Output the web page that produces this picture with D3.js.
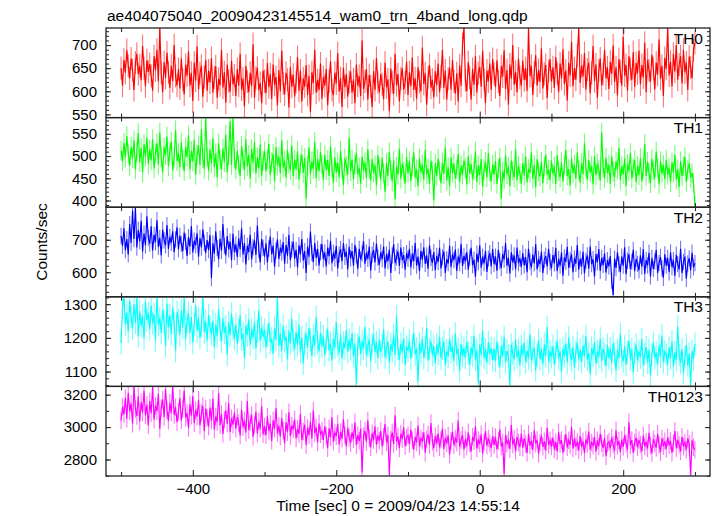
<!DOCTYPE html>
<html><head><meta charset="utf-8">
<script src="https://cdn.jsdelivr.net/npm/d3@7"></script>
<style>
body{margin:0;background:#fff;}
svg text{font-family:"Liberation Sans",Arial,Helvetica,sans-serif;fill:#000;}
</style>
</head><body>
<svg id="chart" width="717" height="516"></svg>
<script>
// ---- data (count rates, counts/sec) ----
const titleText = "ae404075040_20090423145514_wam0_trn_4band_long.qdp";
const xLabelText = "Time [sec] 0 = 2009/04/23 14:55:14";
const yLabelText = "Counts/sec";
const bandNames = ["TH0","TH1","TH2","TH3","TH0123"];
const bandColors = ["#ff0000","#00ff00","#0000ff","#00ffff","#ff00ff"];
const timeStart = -500, timeStep = 2;   // bin centres (sec)
const xDomain = [-521, 321];
const xMajorTicks = [-400,-200,0,200];
const xMinorTicks = [-500,-300,-100,100,300];
const yDomains = [[543,737],[385,586.5],[524.5,800],[1056,1322],[2698,3251]];
const yMajorTicks = [[550,600,650,700],[400,450,500,550],[600,700],[1100,1200,1300],[2800,3000,3200]];
const yMinorStep = [10,10,20,20,100];
const errHalf = [25,22,25,34,54];

const th0 = [
650,612,668,640,689,655,628,671,646,603,662,681,637,655,624,698,650,611,667,642,
659,633,601,676,645,690,622,737,640,598,663,629,684,641,607,655,622,700,633,612,
648,606,671,625,593,657,634,686,612,640,579,662,623,697,604,639,655,588,631,668,
601,645,619,672,597,630,654,586,627,613,690,608,641,575,658,622,599,666,615,634,
590,648,612,681,604,627,567,655,621,598,640,611,702,586,629,651,603,618,574,645,
622,596,661,609,637,583,658,614,631,569,646,600,688,617,593,640,625,565,652,610,
636,589,620,674,601,645,578,628,610,657,592,633,555,641,618,690,597,624,603,660,
584,631,612,648,570,622,665,603,592,640,617,683,599,628,566,651,609,637,588,620,
643,597,626,574,658,612,633,590,710,605,621,648,582,635,611,566,644,603,672,619,
598,637,615,583,662,609,626,557,649,620,594,681,613,637,578,628,650,604,619,664,
592,641,611,673,603,628,584,652,620,600,695,616,639,571,630,657,608,625,587,644,
613,660,598,632,690,607,645,582,627,651,604,668,621,595,639,578,656,612,702,737,
624,600,663,630,582,648,614,676,597,639,653,610,688,626,574,645,621,660,603,670,
638,609,667,621,590,654,632,689,605,646,571,658,627,700,614,642,598,671,630,612,
666,624,650,601,737,633,655,592,641,678,612,646,620,693,606,638,657,585,644,669,
621,652,607,674,639,598,660,627,691,616,645,580,662,634,707,611,650,625,677,737,
618,655,632,683,604,647,662,596,640,698,622,658,586,645,671,613,637,690,628,652,
605,664,638,699,620,652,591,670,643,612,718,634,657,601,676,648,625,685,610,661,
639,688,615,657,630,705,598,668,645,621,679,650,604,662,636,712,627,655,590,672,
649,737,634,664,611,681,643,700,625,658,676,617,690,641,662,603,675,652,628,689,
705];

const th1 = [
512,488,530,497,545,506,478,521,494,535,470,509,552,486,518,463,527,499,541,482,
515,490,538,472,506,528,481,553,497,463,520,502,544,477,511,532,468,496,558,489,
507,475,531,492,466,520,498,547,470,512,488,536,458,503,524,480,561,495,471,586,
498,467,515,483,540,475,506,452,529,491,470,517,486,548,463,501,578,480,586,494,
470,512,481,455,523,492,468,538,477,503,449,516,485,531,461,497,472,526,456,490,
511,466,493,527,458,486,505,444,520,479,499,462,535,474,490,452,514,483,468,524,
455,492,470,511,447,483,503,462,496,404,478,520,459,488,471,532,450,494,466,509,
480,447,503,468,491,455,522,474,440,497,463,486,452,512,471,435,495,478,458,541,
466,492,448,481,507,459,474,438,499,468,486,451,515,470,445,493,462,480,434,502,
474,447,496,461,420,485,455,509,468,443,491,403,476,458,517,449,483,466,438,498,
461,489,444,476,508,452,470,433,495,463,481,447,514,458,472,437,490,466,400,483,
455,494,467,439,486,460,519,445,475,432,497,462,483,449,470,505,441,478,458,490,
473,436,500,461,482,448,468,511,442,479,457,494,431,470,487,452,507,464,443,481,
458,489,437,472,496,404,466,448,502,459,476,433,490,467,452,515,445,478,461,438,
484,456,499,441,471,462,508,449,480,430,493,465,454,487,439,476,503,458,470,446,
490,460,477,437,502,466,452,486,443,479,514,455,471,434,495,462,481,449,508,468,
440,485,459,529,472,447,491,463,478,436,500,457,483,469,445,553,474,451,496,462,
481,438,499,465,452,488,470,519,446,477,459,495,433,482,466,507,450,473,491,441,
478,457,496,443,471,527,455,487,462,439,494,468,450,510,473,436,489,461,480,448,
492,458,474,441,486,463,503,447,470,430,488,455,477,498,442,469,484,451,462,440,
388];

const th2 = [
712,681,735,668,702,655,748,690,790,702,800,676,730,695,758,664,719,683,772,705,
688,741,667,715,693,760,678,706,652,731,698,683,745,672,709,690,726,662,701,738,
671,712,687,665,722,694,650,708,679,742,661,697,683,720,648,705,676,732,690,659,
699,668,714,582,689,657,726,675,640,703,666,748,681,652,711,670,694,637,718,662,
686,647,704,671,735,655,690,624,681,662,715,640,677,698,653,744,669,630,702,675,
648,689,630,673,710,655,682,617,667,701,641,676,660,693,626,684,651,715,637,670,
694,642,669,615,683,655,702,636,665,598,680,648,725,659,631,690,644,672,621,662,
687,640,661,618,676,649,697,628,660,642,681,612,655,671,634,690,647,663,609,678,
643,665,620,684,652,611,672,639,657,696,626,660,641,679,605,654,668,630,688,645,
623,661,640,680,612,655,634,670,598,651,686,628,646,664,619,676,637,653,608,659,
641,672,615,657,634,690,620,648,603,666,639,677,626,652,611,683,644,629,662,606,
650,631,675,612,646,664,598,640,627,681,616,655,637,670,604,648,628,687,619,650,
633,662,608,645,675,622,639,586,657,631,683,614,648,627,666,601,642,659,618,671,
625,648,605,669,634,613,656,639,690,620,644,596,661,630,652,609,676,628,643,616,
659,621,647,600,672,633,615,654,627,687,609,641,625,663,598,638,650,618,672,631,
612,653,627,675,603,640,620,661,589,646,632,678,614,637,655,600,643,626,684,608,
641,618,663,596,635,652,611,679,625,640,587,656,630,671,604,644,622,658,599,637,
618,650,574,530,642,613,661,625,600,648,620,677,594,636,655,610,632,669,603,641,
626,606,652,617,671,595,638,621,660,587,644,610,633,668,598,629,647,612,583,655,
620,644,600,661,616,637,589,654,625,609,672,598,632,648,580,627,643,606,660,615,
628];

const th3 = [
1185,1290,1322,1240,1275,1218,1310,1262,1228,1300,1245,1322,1205,1280,1236,1265,1198,1308,1252,1274,
1226,1296,1243,1271,1192,1322,1238,1259,1215,1284,1249,1177,1302,1230,1268,1211,1290,1244,1162,1276,
1252,1209,1281,1230,1318,1196,1247,1273,1214,1262,1186,1240,1296,1221,1258,1200,1236,1322,1217,1249,
1192,1268,1230,1212,1251,1172,1240,1205,1286,1224,1189,1258,1215,1234,1150,1247,1208,1272,1226,1198,
1240,1183,1222,1266,1195,1213,1140,1237,1208,1255,1180,1226,1200,1248,1168,1219,1282,1190,1231,1204,
1224,1172,1208,1245,1185,1198,1152,1230,1194,1322,1176,1212,1161,1236,1190,1204,1137,1221,1183,1257,
1193,1166,1218,1178,1240,1157,1201,1124,1185,1213,1170,1229,1194,1146,1208,1178,1262,1188,1160,1216,
1175,1205,1148,1190,1227,1163,1184,1132,1198,1171,1246,1180,1155,1209,1138,1186,1170,1223,1159,1194,
1166,1214,1145,1183,1062,1178,1203,1152,1190,1168,1232,1147,1175,1196,1130,1181,1210,1159,1186,1140,
1195,1158,1176,1225,1142,1170,1189,1127,1181,1160,1208,1149,1264,1168,1135,1183,1157,1199,1120,1174,
1162,1190,1138,1175,1216,1150,1169,1070,1183,1155,1198,1141,1172,1229,1133,1166,1190,1148,1175,1125,
1180,1152,1203,1139,1168,1190,1119,1162,1145,1197,1158,1175,1131,1213,1150,1168,1102,1182,1146,1170,
1141,1189,1155,1120,1172,1148,1206,1136,1163,1065,1180,1150,1222,1140,1166,1126,1187,1153,1170,1133,
1168,1131,1190,1150,1112,1174,1145,1203,1128,1161,1147,1060,1180,1154,1136,1195,1142,1165,1118,1177,
1149,1186,1127,1162,1140,1210,1133,1158,1171,1104,1150,1193,1137,1166,1122,1181,1146,1232,1129,1160,
1143,1176,1121,1155,1192,1138,1162,1099,1168,1145,1183,1127,1201,1150,1134,1172,1110,1159,1186,1137,
1164,1128,1177,1146,1206,1135,1155,1092,1170,1148,1188,1123,1160,1143,1198,1131,1167,1151,1116,1179,
1140,1169,1125,1184,1152,1103,1163,1139,1212,1147,1130,1175,1120,1158,1191,1136,1166,1098,1154,1180,
1133,1161,1142,1196,1118,1152,1173,1127,1165,1088,1149,1186,1140,1157,1121,1178,1145,1207,1129,1160,
1150,1122,1171,1139,1190,1115,1157,1134,1234,1148,1126,1166,1096,1143,1179,1119,1153,1058,1161,1138,
1182];

const th0123 = [
3040,3125,3078,3180,3052,3210,3098,3146,3020,3251,3112,3068,3190,3035,3155,3090,3224,3072,3138,3010,
3160,3085,3251,3046,3132,3098,3205,2990,3118,3170,3062,3234,3104,3040,3150,3088,3251,3075,3122,3030,
3095,3178,3040,3112,3226,3058,3086,2995,3140,3070,3192,3024,3105,3064,3168,3010,3088,3130,2975,3115,
3058,3002,3120,3040,3175,2985,3066,3032,3210,3012,3080,2958,3045,3102,3020,3148,2970,3055,3015,3090,
2990,3062,3025,2948,3108,3000,3040,2966,3160,2982,3030,3075,2940,3012,3094,2960,3034,2990,3128,2955,
3004,2950,3066,2976,3020,2915,3042,2990,3118,2962,3008,2940,3055,2978,2900,3030,2968,3092,2945,3010,
2985,3046,2930,2990,2958,3080,2920,2972,3015,2890,2995,2950,3034,2928,3102,2962,2998,2905,3022,2956,
2975,2920,3005,2948,2870,2992,2936,3060,2910,2966,2944,3020,2892,2970,2928,3048,2950,2880,2996,2935,
2902,2968,2925,3030,2888,2950,2915,2990,2720,2942,2976,2908,3040,2930,2875,2962,2920,3005,2892,2948,
2915,2975,2880,2940,3018,2906,2950,2705,2925,2968,2895,3072,2910,2942,2870,2960,2925,2998,2882,2935,
2950,2896,2985,2918,2860,2940,2905,3010,2880,2930,2915,2968,2842,2925,2955,2890,3025,2908,2870,2945,
2898,2960,2875,2922,2990,2865,2935,2900,2948,2830,2915,2972,2888,2930,2905,3040,2878,2920,2950,2862,
2925,2880,2968,2898,2850,2940,2912,3005,2868,2920,2895,2955,2835,2910,2975,2885,2930,2902,2870,2945,
2890,2938,2862,2915,2985,2880,2905,2710,2950,2898,2920,2865,3012,2892,2928,2850,2940,2905,2876,2960,
2872,2930,2895,2840,2958,2886,2915,2860,2980,2898,2922,2835,2905,2948,2878,2912,2855,2995,2890,2918,
2880,2935,2862,2908,2850,2968,2895,2920,2842,2902,2955,2875,2918,2890,3000,2866,2930,2880,2910,2855,
2945,2878,2912,2838,2925,2895,2972,2860,2905,2885,2940,2848,2918,2880,2958,2900,2870,2932,2820,2898,
2910,2868,2935,2892,2855,2980,2885,2915,2845,2922,2878,2950,2898,2862,3030,2888,2920,2840,2905,2935,
2875,2920,2892,2850,2948,2880,2910,2868,2965,2885,2838,2925,2900,2872,2958,2890,2845,2930,2882,2912,
2865,2935,2888,2915,2842,2900,2975,2870,2920,2890,2850,2940,2880,2905,2860,2930,2895,2702,2918,2875,
2860];

const seriesValues = [th0, th1, th2, th3, th0123];

// ---- layout ----
const W = 717, H = 516;
const plotLeft = 106, plotRight = 710, plotTop = 28, plotBottom = 476;
const nP = bandNames.length;
const pH = (plotBottom - plotTop) / nP;
const FONT = 15.5;

const svg = d3.select("#chart");
const x = d3.scaleLinear().domain(xDomain).range([plotLeft, plotRight]);

const defs = svg.append("defs");

bandNames.forEach((name, i) => {
  const top = plotTop + i * pH, bot = top + pH;
  const y = d3.scaleLinear().domain(yDomains[i]).range([bot, top]);
  const vals = seriesValues[i];
  const pts = vals.map((v, k) => ({t: timeStart + k * timeStep, v: v}));
  const col = bandColors[i];

  defs.append("clipPath").attr("id", "clip" + i)
    .append("rect").attr("x", plotLeft).attr("y", top)
    .attr("width", plotRight - plotLeft).attr("height", pH);

  const g = svg.append("g").attr("clip-path", "url(#clip" + i + ")");
  // error bars
  g.selectAll("line.err").data(pts).enter().append("line")
    .attr("class", "err")
    .attr("x1", d => x(d.t)).attr("x2", d => x(d.t))
    .attr("y1", d => y(d.v - errHalf[i])).attr("y2", d => y(d.v + errHalf[i]))
    .attr("stroke", col).attr("stroke-opacity", 0.55).attr("stroke-width", 1.1);
  // data line
  g.append("path").datum(pts)
    .attr("d", d3.line().x(d => x(d.t)).y(d => y(d.v)))
    .attr("fill", "none").attr("stroke", col).attr("stroke-width", 1.15);

  // y axes
  const minor = d3.range(Math.ceil(yDomains[i][0] / yMinorStep[i]) * yMinorStep[i], yDomains[i][1], yMinorStep[i]);
  const axL = svg.append("g").attr("transform", `translate(${plotLeft},0)`)
    .call(d3.axisLeft(y).tickValues(yMajorTicks[i]).tickSize(-5).tickPadding(9).tickFormat(d3.format("d")));
  axL.select(".domain").remove();
  axL.selectAll("text").style("font-size", "15px").attr("font-family", null);
  const axLm = svg.append("g").attr("transform", `translate(${plotLeft},0)`)
    .call(d3.axisLeft(y).tickValues(minor).tickSize(-3).tickFormat(""));
  axLm.select(".domain").remove();
  const axR = svg.append("g").attr("transform", `translate(${plotRight},0)`)
    .call(d3.axisRight(y).tickValues(yMajorTicks[i]).tickSize(-5).tickFormat(""));
  axR.select(".domain").remove();
  const axRm = svg.append("g").attr("transform", `translate(${plotRight},0)`)
    .call(d3.axisRight(y).tickValues(minor).tickSize(-3).tickFormat(""));
  axRm.select(".domain").remove();

  // x ticks on top and bottom of each panel
  const isLast = i === nP - 1;
  const axB = svg.append("g").attr("transform", `translate(0,${bot})`)
    .call(d3.axisBottom(x).tickValues(xMajorTicks).tickSize(-6).tickPadding(7)
      .tickFormat(isLast ? d3.format("d") : ""));
  axB.select(".domain").remove();
  axB.selectAll("text").style("font-size", "15px").attr("font-family", null);
  const axBm = svg.append("g").attr("transform", `translate(0,${bot})`)
    .call(d3.axisBottom(x).tickValues(xMinorTicks).tickSize(-4).tickFormat(""));
  axBm.select(".domain").remove();
  const axT = svg.append("g").attr("transform", `translate(0,${top})`)
    .call(d3.axisTop(x).tickValues(xMajorTicks).tickSize(-6).tickFormat(""));
  axT.select(".domain").remove();
  const axTm = svg.append("g").attr("transform", `translate(0,${top})`)
    .call(d3.axisTop(x).tickValues(xMinorTicks).tickSize(-4).tickFormat(""));
  axTm.select(".domain").remove();

  svg.selectAll(".tick line").attr("stroke", "#222");

  // panel frame
  svg.append("rect").attr("x", plotLeft).attr("y", top)
    .attr("width", plotRight - plotLeft).attr("height", pH)
    .attr("fill", "none").attr("stroke", "#222").attr("stroke-width", 1.3);

  // band label
  svg.append("text").attr("x", plotRight - 7).attr("y", top + 15.5)
    .attr("text-anchor", "end").style("font-size", FONT + "px").text(name);
});

// title and axis labels
svg.append("text").attr("x", 107).attr("y", 20.5)
  .style("font-size", FONT + "px").text(titleText);
svg.append("text").attr("x", 398).attr("y", 511)
  .attr("text-anchor", "middle").style("font-size", FONT + "px").text(xLabelText);
svg.append("text").attr("transform", "translate(47,242) rotate(-90)")
  .attr("text-anchor", "middle").style("font-size", FONT + "px").text(yLabelText);
</script>
</body></html>
